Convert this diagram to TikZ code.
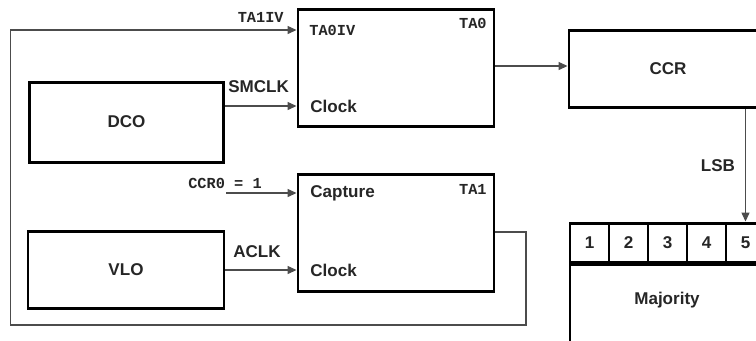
\documentclass[tikz,border=0pt]{standalone}
\usepackage{fontspec}
\usetikzlibrary{arrows.meta}
\newfontfamily\arialfont{Liberation Sans}
\newfontfamily\courfont{Liberation Mono}

\begin{document}
\begin{tikzpicture}[>={Triangle[length=5pt,width=4.5pt]},
    blk/.style={draw, line width=1.7pt, inner sep=0pt, font=\arialfont\bfseries\fontsize{9.7}{11}\selectfont, text=black!85},
    lbl/.style={inner sep=0pt, font=\arialfont\bfseries\fontsize{9.7}{11}\selectfont, text=black!85},
    reg/.style={inner sep=0pt, font=\courfont\bfseries\fontsize{8.7}{10}\selectfont, text=black!85},
    wire/.style={draw=black!70, line width=0.6pt}]
    % 画布范围
    \useasboundingbox (0,0) rectangle (15.12,-6.8);
    \clip (0,0) rectangle (15.12,-6.8);

    % 时钟源
    \node[blk, minimum width=3.88cm, minimum height=1.6cm] (dco) at (2.53,-2.44) {DCO};
    \node[blk, minimum width=3.92cm, minimum height=1.54cm] (vlo) at (2.52,-5.39) {VLO};

    % 定时器 TA0 和 TA1
    \node[blk, minimum width=3.92cm, minimum height=2.34cm] (ta0) at (7.92,-1.35) {};
    \node[blk, minimum width=3.92cm, minimum height=2.34cm] (ta1) at (7.92,-4.65) {};
    \node[reg, anchor=west] (ta0iv) at (6.18,-0.6) {TA0IV};
    \node[reg, anchor=east] (ta0name) at (9.74,-0.47) {TA0};
    \node[lbl, anchor=west] (ta0clk) at (6.2,-2.12) {Clock};
    \node[lbl, anchor=west] (ta1cap) at (6.2,-3.86) {Capture};
    \node[reg, anchor=east] (ta1name) at (9.74,-3.78) {TA1};
    \node[lbl, anchor=west] (ta1clk) at (6.2,-5.4) {Clock};

    % CCR 和多数判决
    \node[blk, minimum width=3.96cm, minimum height=1.54cm] (ccr) at (13.36,-1.37) {CCR};
    \foreach \i in {1,...,5}
        \node[blk, minimum width=0.78cm, minimum height=0.78cm] (c\i) at ({11.01+0.78*\i},-4.85) {\i};
    \node[blk, minimum width=3.9cm, minimum height=1.66cm, anchor=north west] (maj) at (c1.south west) {};
    \node[lbl] (majtext) at (13.34,-6.0) {Majority};

    % 时钟连线
    \draw[wire, ->] (dco.east |- ta0clk) -- (ta0.west |- ta0clk);
    \node[lbl, anchor=west] (smclk) at (4.56,-1.74) {SMCLK};
    \draw[wire, ->] (vlo.east |- ta1clk) -- (ta1.west |- ta1clk);
    \node[lbl] (aclk) at (5.14,-5.03) {ACLK};

    % 捕获输入
    \node[reg] (ccr0) at (4.5,-3.66) {CCR0 = 1};
    \coordinate (capin) at (4.52,-3.86);
    \draw[wire, ->] (capin) -- (ta1.west |- capin);

    % TA1 回到 TA0 的中断线
    \coordinate (fb1) at (10.52,-4.64);
    \coordinate (fb2) at (10.52,-6.5);
    \coordinate (fb3) at (0.21,-6.5);
    \coordinate (fb4) at (0.21,-0.6);
    \draw[wire, ->] (ta1.east |- fb1) -- (fb1) -- (fb2) -- (fb3) -- (fb4) -- (ta0.west |- fb4);
    \node[reg, anchor=east] (ta1iv) at (5.68,-0.34) {TA1IV};

    % TA0 到 CCR，CCR 的 LSB 到第 5 位
    \draw[wire, ->] (ta0.east |- 0,-1.32) -- (ccr.west |- 0,-1.32);
    \draw[wire, ->] (ccr.south -| c5) -- (c5.north);
    \node[lbl] (lsb) at (14.36,-3.32) {LSB};
\end{tikzpicture}
\end{document}
